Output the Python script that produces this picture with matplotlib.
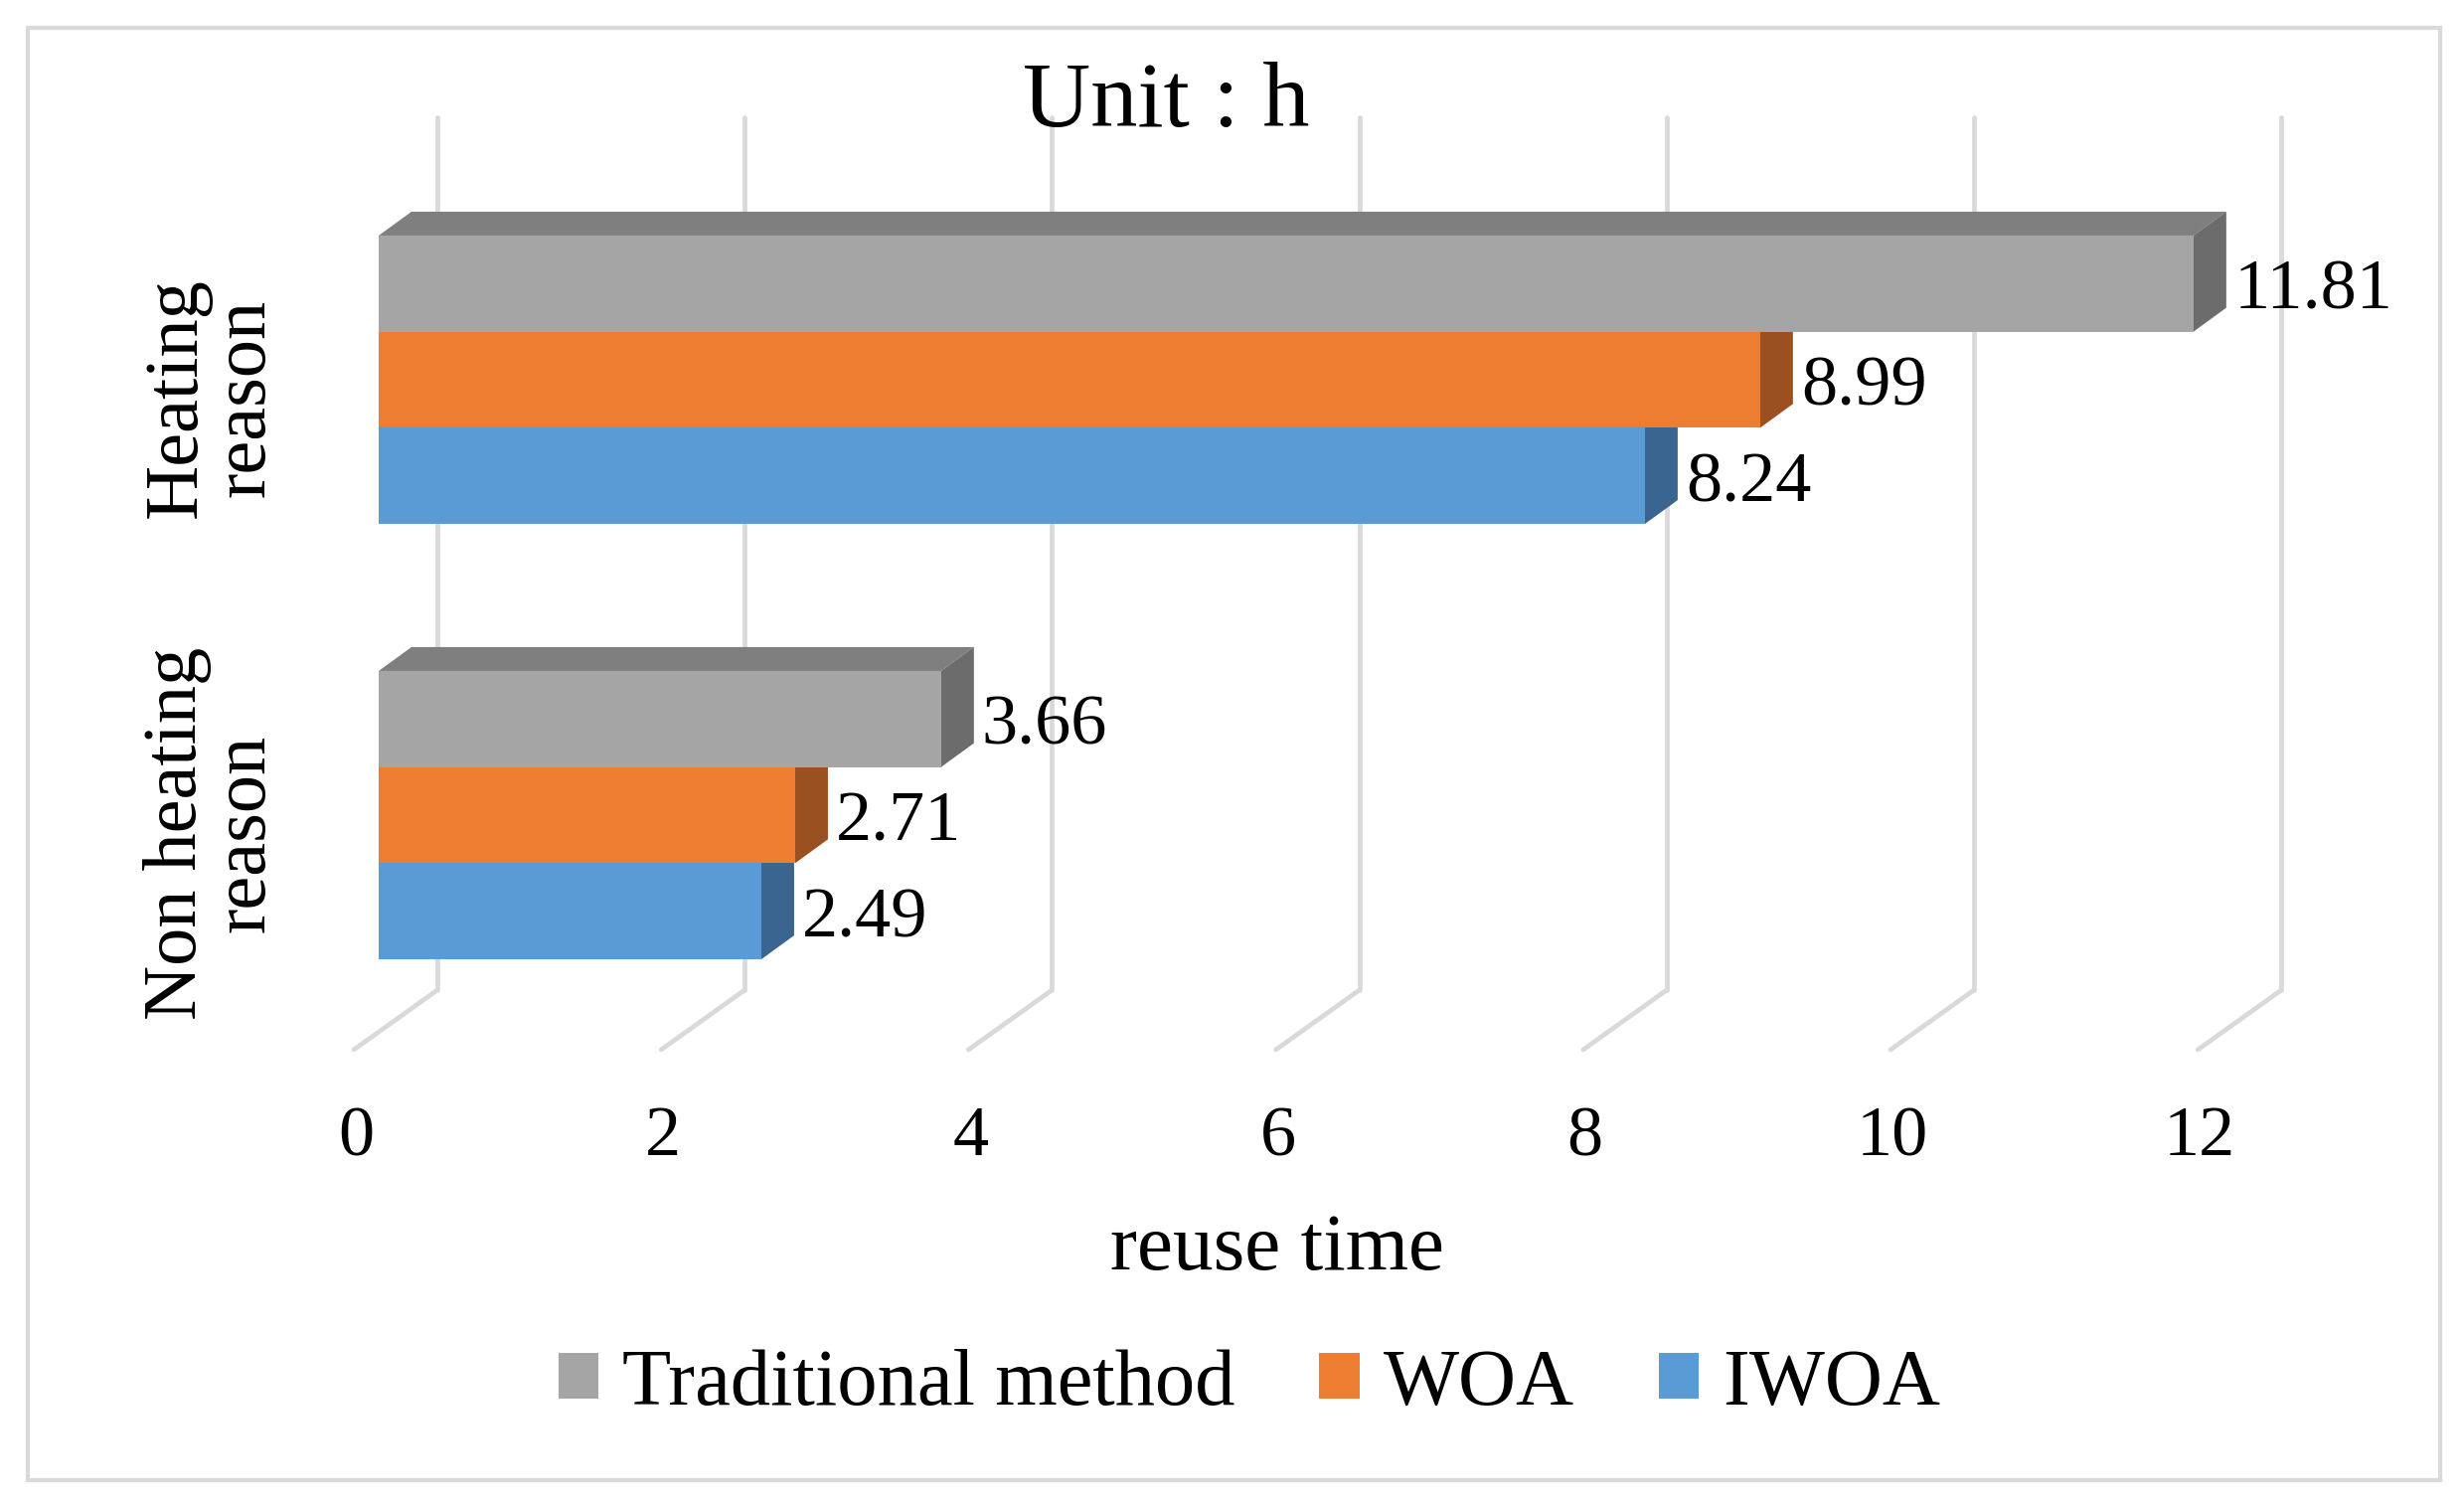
import matplotlib
matplotlib.use("Agg")
import matplotlib.pyplot as plt
from matplotlib.patches import Polygon, Rectangle, Patch
import numpy as np

plt.rcParams['font.family'] = ['Liberation Serif', 'DejaVu Serif']

# ---------------- data ----------------
categories = ["Heating\nreason", "Non heating\nreason"]
series_names = ["Traditional method", "WOA", "IWOA"]
traditional = [11.81, 3.66]
woa = [8.99, 2.71]
iwoa = [8.24, 2.49]
x_ticks = [0, 2, 4, 6, 8, 10, 12]
title = "Unit : h"
x_title = "reuse time"

front_colors = ["#A5A5A5", "#ED7D31", "#5B9BD5"]
top_colors = ["#7F7F7F", "#A85820", "#3F6F98"]
side_colors = ["#6C6C6C", "#9A5020", "#3A6590"]

# ---------------- layout (pixels of a 2479x1513 canvas) ----------------
W, H = 2479, 1513
DPI = 100
X0 = 381.0      # pixel x of value 0 on bar front plane
S = 154.6       # pixels per unit
def vx(px):
    return (px - X0) / S

DEPTH_DX = 33 / S
DEPTH_DY = 24
WALL_DX = 59 / S
FLOOR_DX = -84 / S
FLOOR_DY = 60
GRID_TOP = 118
GRID_BOTTOM = 996
BAR_H = 96.7
group_centers = [382.0, 820.0]

fig = plt.figure(figsize=(W / DPI, H / DPI), dpi=DPI)
ax = fig.add_axes([0, 0, 1, 1])
ax.set_xlim(vx(0), vx(W))
ax.set_ylim(H, 0)
ax.axis("off")

grid_col = "#D9D9D9"
# back wall gridlines + floor diagonals
for t in x_ticks:
    xb = t + WALL_DX
    ax.plot([xb, xb], [GRID_TOP, GRID_BOTTOM], color=grid_col, lw=3.4,
            solid_capstyle="round", zorder=1)
    ax.plot([xb, xb + FLOOR_DX], [GRID_BOTTOM, GRID_BOTTOM + FLOOR_DY],
            color=grid_col, lw=3.4, solid_capstyle="round", zorder=1)
    ax.text(t - 23 / S, 1145, str(t), ha="center", va="center", fontsize=52)

series = [traditional, woa, iwoa]
# draw bottom bars first so upper bars cover hidden faces
z = 2
for gi, gc in enumerate(group_centers):
    for si in [2, 1, 0]:
        val = series[si][gi]
        top = gc - 1.5 * BAR_H + si * BAR_H
        bot = top + BAR_H
        # top face
        ax.add_patch(Polygon([(0, top), (val, top), (val + DEPTH_DX, top - DEPTH_DY),
                              (DEPTH_DX, top - DEPTH_DY)], closed=True,
                             facecolor=top_colors[si], edgecolor="none", zorder=z))
        # side face
        ax.add_patch(Polygon([(val, top), (val + DEPTH_DX, top - DEPTH_DY),
                              (val + DEPTH_DX, bot - DEPTH_DY), (val, bot)], closed=True,
                             facecolor=side_colors[si], edgecolor="none", zorder=z))
        # front face
        ax.barh(top + BAR_H / 2, val, height=BAR_H, left=0, color=front_colors[si],
                edgecolor="none", zorder=z + 0.5)
        ax.text(val + DEPTH_DX + 8 / S, top + BAR_H / 2 + 8, f"{val:.2f}",
                ha="left", va="center", fontsize=52, zorder=10)
        z += 1

# category labels
for gi, gc in enumerate(group_centers):
    ax.text(vx(213), gc + 18, categories[gi], rotation=90, ha="center", va="center",
            fontsize=55, linespacing=1.0, multialignment="center")

ax.text(vx(1173), 104, title, ha="center", va="center", fontsize=68)
ax.text(vx(1285), 1258, x_title, ha="center", va="center", fontsize=58.5)

handles = [Patch(facecolor=c, edgecolor="none") for c in front_colors]
fig.legend(handles, series_names, loc="center", bbox_to_anchor=(1257 / W, 1 - 1393 / H),
           ncol=3, frameon=False, fontsize=58, handlelength=0.5, handleheight=0.5,
           handletextpad=0.3, columnspacing=1.05)

# outer border
fig.add_artist(Rectangle((28 / W, 1 - 1489 / H), (2455 - 28) / W, (1489 - 28) / H,
                         transform=fig.transFigure, fill=False, edgecolor="#D9D9D9", lw=3))

fig.savefig("out.png", dpi=DPI)
